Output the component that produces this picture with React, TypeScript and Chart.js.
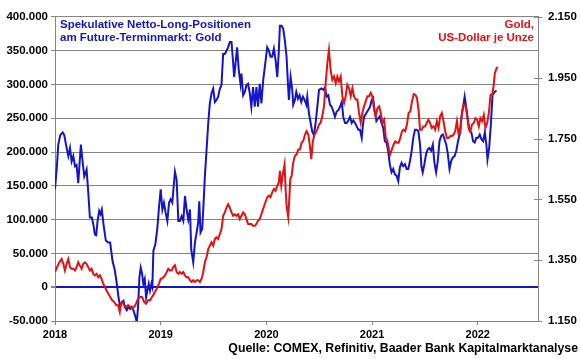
import React, { useEffect, useRef } from 'react';
import { Chart, registerables } from 'chart.js';

Chart.register(...registerables);

// ---------- axis ticks ----------
const yearTicks = [2018, 2019, 2020, 2021, 2022];
const leftTicks = [-50000, 0, 50000, 100000, 150000, 200000, 250000, 300000, 350000, 400000];
const rightTicks = [1150, 1350, 1550, 1750, 1950, 2150];

// ---------- speculative net long positions (thousand contracts), [decimal year, value] ----------
const netLong2018: [number, number][] = [
  [2018.000, 145], [2018.019, 181], [2018.031, 211], [2018.050, 225], [2018.072, 229], [2018.088, 225],
  [2018.104, 211], [2018.126, 194], [2018.142, 206], [2018.157, 186], [2018.173, 194], [2018.189, 179],
  [2018.204, 181], [2018.220, 154], [2018.236, 191], [2018.245, 211], [2018.261, 186], [2018.277, 164],
  [2018.289, 169], [2018.299, 174], [2018.314, 142], [2018.330, 103], [2018.349, 103], [2018.365, 91],
  [2018.377, 78], [2018.390, 77], [2018.403, 98], [2018.418, 113], [2018.431, 108], [2018.443, 115],
  [2018.459, 93], [2018.481, 69], [2018.503, 66], [2018.522, 66], [2018.544, 39], [2018.566, 25],
  [2018.585, 5], [2018.601, -15], [2018.616, -29], [2018.632, -22], [2018.648, -20], [2018.660, -29],
  [2018.679, -34], [2018.695, -29], [2018.711, -32], [2018.726, -29], [2018.742, -34], [2018.758, -42],
  [2018.774, -52], [2018.786, -29], [2018.799, 15], [2018.811, 29], [2018.824, 20], [2018.836, 5],
  [2018.849, 12], [2018.862, -15], [2018.874, -5], [2018.887, 5], [2018.899, -5], [2018.912, 5],
  [2018.921, 0], [2018.931, 54], [2018.950, 64], [2018.969, 88], [2018.984, 118],
];
const netLong2019: [number, number][] = [
  [2019.000, 145], [2019.016, 115], [2019.031, 125], [2019.047, 110], [2019.063, 98], [2019.079, 125],
  [2019.094, 130], [2019.110, 125], [2019.135, 171], [2019.151, 159], [2019.167, 98], [2019.182, 98],
  [2019.198, 105], [2019.214, 98], [2019.230, 135], [2019.245, 115], [2019.261, 100], [2019.277, 115],
  [2019.289, 56], [2019.308, 37], [2019.324, 66], [2019.340, 81], [2019.355, 96], [2019.365, 127],
  [2019.377, 81], [2019.393, 86], [2019.406, 125], [2019.418, 164], [2019.434, 203], [2019.450, 243],
  [2019.465, 272], [2019.481, 287], [2019.497, 294], [2019.513, 274], [2019.528, 277], [2019.544, 282],
  [2019.560, 294], [2019.575, 299], [2019.591, 345], [2019.607, 345], [2019.623, 350], [2019.638, 355],
  [2019.654, 363], [2019.670, 363], [2019.686, 331], [2019.695, 311], [2019.708, 331], [2019.723, 355],
  [2019.739, 321], [2019.755, 301], [2019.764, 316], [2019.780, 284], [2019.796, 289], [2019.811, 299],
  [2019.827, 301], [2019.843, 287], [2019.858, 267], [2019.874, 296], [2019.890, 267], [2019.906, 296],
  [2019.921, 267], [2019.937, 301], [2019.953, 272], [2019.969, 305],
];
const netLong2020: [number, number][] = [
  [2020.008, 355], [2020.024, 350], [2020.039, 341], [2020.055, 341], [2020.071, 353], [2020.087, 336],
  [2020.103, 311], [2020.118, 350], [2020.128, 387], [2020.144, 387], [2020.160, 382], [2020.175, 365],
  [2020.191, 341], [2020.204, 301], [2020.213, 277], [2020.229, 311], [2020.245, 292], [2020.254, 270],
  [2020.270, 277], [2020.283, 289], [2020.299, 279], [2020.314, 284], [2020.330, 274], [2020.346, 282],
  [2020.362, 277], [2020.378, 270], [2020.387, 282], [2020.403, 257], [2020.419, 243], [2020.434, 230],
  [2020.450, 225], [2020.466, 243], [2020.482, 267], [2020.498, 292], [2020.520, 294], [2020.539, 292],
  [2020.555, 296], [2020.570, 282], [2020.586, 284], [2020.602, 270], [2020.618, 267], [2020.634, 260],
  [2020.649, 252], [2020.665, 260], [2020.681, 262], [2020.697, 267], [2020.713, 274], [2020.728, 252],
  [2020.744, 243], [2020.760, 243], [2020.776, 247], [2020.791, 252], [2020.807, 243], [2020.823, 247],
  [2020.839, 243], [2020.855, 238], [2020.870, 233], [2020.886, 233], [2020.902, 221], [2020.912, 238],
  [2020.924, 252], [2020.943, 257], [2020.962, 262], [2020.981, 267], [2020.997, 277],
];
const netLong2021: [number, number][] = [
  [2021.010, 280], [2021.025, 260], [2021.041, 246], [2021.057, 250], [2021.073, 253], [2021.089, 243],
  [2021.105, 236], [2021.121, 216], [2021.137, 214], [2021.152, 202], [2021.168, 182], [2021.184, 170],
  [2021.200, 175], [2021.216, 167], [2021.232, 165], [2021.248, 157], [2021.263, 177], [2021.279, 184],
  [2021.295, 179], [2021.311, 182], [2021.327, 175], [2021.343, 175], [2021.359, 187], [2021.375, 202],
  [2021.390, 221], [2021.406, 233], [2021.422, 233], [2021.438, 231], [2021.454, 211], [2021.467, 179],
  [2021.479, 170], [2021.495, 182], [2021.511, 197], [2021.527, 204], [2021.543, 206], [2021.559, 202],
  [2021.575, 211], [2021.590, 184], [2021.606, 170], [2021.622, 187], [2021.638, 216], [2021.654, 224],
  [2021.670, 226], [2021.686, 219], [2021.702, 211], [2021.717, 197], [2021.733, 175], [2021.749, 187],
  [2021.765, 192], [2021.781, 194], [2021.797, 202], [2021.813, 216], [2021.829, 226], [2021.844, 250],
  [2021.860, 265], [2021.876, 282], [2021.892, 265], [2021.908, 246], [2021.924, 231], [2021.940, 229],
  [2021.956, 216], [2021.971, 214], [2021.987, 221],
];
const netLong2022: [number, number][] = [
  [2022.003, 221], [2022.019, 226], [2022.035, 219], [2022.051, 216], [2022.067, 229], [2022.083, 209],
  [2022.092, 189], [2022.108, 206], [2022.124, 241], [2022.140, 285], [2022.152, 287], [2022.165, 290],
  [2022.178, 291],
];

// ---------- gold price, USD per ounce, [decimal year, value] ----------
const gold2018: [number, number][] = [
  [2018.000, 1311], [2018.019, 1327], [2018.041, 1343], [2018.063, 1354], [2018.079, 1338], [2018.094, 1316],
  [2018.110, 1338], [2018.126, 1354], [2018.142, 1327], [2018.157, 1322], [2018.173, 1322], [2018.189, 1316],
  [2018.204, 1327], [2018.220, 1343], [2018.236, 1332], [2018.252, 1322], [2018.267, 1338], [2018.283, 1343],
  [2018.299, 1338], [2018.314, 1327], [2018.330, 1316], [2018.346, 1322], [2018.362, 1305], [2018.377, 1300],
  [2018.393, 1305], [2018.409, 1294], [2018.425, 1300], [2018.440, 1289], [2018.456, 1273], [2018.472, 1262],
  [2018.487, 1251], [2018.503, 1240], [2018.522, 1229], [2018.541, 1218], [2018.560, 1213], [2018.579, 1202],
  [2018.597, 1202], [2018.613, 1180], [2018.623, 1207], [2018.635, 1213], [2018.654, 1202], [2018.673, 1196],
  [2018.692, 1202], [2018.711, 1196], [2018.730, 1191], [2018.748, 1196], [2018.767, 1207], [2018.786, 1224],
  [2018.805, 1229], [2018.824, 1229], [2018.843, 1213], [2018.862, 1207], [2018.881, 1218], [2018.899, 1218],
  [2018.918, 1229], [2018.937, 1240], [2018.962, 1256], [2018.984, 1273],
];
const gold2019: [number, number][] = [
  [2019.000, 1289], [2019.009, 1289], [2019.025, 1294], [2019.041, 1300], [2019.057, 1311], [2019.072, 1322],
  [2019.088, 1316], [2019.104, 1316], [2019.119, 1327], [2019.135, 1333], [2019.151, 1311], [2019.167, 1305],
  [2019.182, 1311], [2019.198, 1305], [2019.214, 1311], [2019.230, 1300], [2019.245, 1294], [2019.261, 1294],
  [2019.277, 1284], [2019.292, 1278], [2019.308, 1284], [2019.324, 1278], [2019.340, 1284], [2019.355, 1284],
  [2019.371, 1278], [2019.387, 1289], [2019.403, 1311], [2019.418, 1343], [2019.434, 1360], [2019.450, 1387],
  [2019.465, 1398], [2019.481, 1409], [2019.497, 1398], [2019.513, 1420], [2019.528, 1425], [2019.544, 1420],
  [2019.560, 1436], [2019.575, 1452], [2019.591, 1496], [2019.607, 1507], [2019.623, 1523], [2019.638, 1534],
  [2019.654, 1523], [2019.670, 1507], [2019.686, 1496], [2019.701, 1501], [2019.717, 1496], [2019.733, 1501],
  [2019.748, 1485], [2019.764, 1496], [2019.780, 1507], [2019.796, 1501], [2019.811, 1485], [2019.827, 1469],
  [2019.843, 1469], [2019.858, 1469], [2019.874, 1463], [2019.890, 1463], [2019.906, 1469], [2019.921, 1480],
  [2019.937, 1485], [2019.953, 1501], [2019.969, 1518], [2019.984, 1534],
];
const gold2020: [number, number][] = [
  [2020.008, 1557], [2020.024, 1562], [2020.039, 1557], [2020.055, 1573], [2020.071, 1584], [2020.087, 1578],
  [2020.103, 1595], [2020.118, 1606], [2020.128, 1644], [2020.141, 1595], [2020.156, 1633], [2020.172, 1665],
  [2020.182, 1584], [2020.191, 1529], [2020.207, 1491], [2020.216, 1546], [2020.226, 1616], [2020.239, 1627],
  [2020.254, 1671], [2020.270, 1693], [2020.286, 1698], [2020.302, 1714], [2020.318, 1714], [2020.333, 1736],
  [2020.349, 1742], [2020.365, 1763], [2020.381, 1774], [2020.397, 1763], [2020.412, 1725], [2020.425, 1682],
  [2020.438, 1736], [2020.450, 1758], [2020.466, 1769], [2020.482, 1780], [2020.498, 1796], [2020.513, 1802],
  [2020.529, 1823], [2020.545, 1856], [2020.561, 1932], [2020.577, 1998], [2020.592, 2041], [2020.608, 1976],
  [2020.624, 1943], [2020.640, 1954], [2020.656, 1932], [2020.671, 1954], [2020.687, 1938], [2020.703, 1954],
  [2020.719, 1889], [2020.735, 1867], [2020.750, 1889], [2020.766, 1927], [2020.782, 1916], [2020.798, 1889],
  [2020.814, 1916], [2020.829, 1889], [2020.845, 1878], [2020.861, 1878], [2020.877, 1834], [2020.893, 1802],
  [2020.908, 1834], [2020.924, 1856], [2020.940, 1872], [2020.956, 1889], [2020.972, 1889], [2020.987, 1900],
];
const gold2021: [number, number][] = [
  [2021.003, 1888], [2021.019, 1845], [2021.035, 1823], [2021.051, 1850], [2021.067, 1856], [2021.083, 1834],
  [2021.098, 1801], [2021.114, 1812], [2021.130, 1752], [2021.146, 1741], [2021.162, 1709], [2021.171, 1698],
  [2021.187, 1714], [2021.203, 1730], [2021.219, 1741], [2021.235, 1736], [2021.251, 1736], [2021.267, 1752],
  [2021.283, 1774], [2021.298, 1779], [2021.314, 1774], [2021.330, 1796], [2021.346, 1834], [2021.362, 1839],
  [2021.378, 1872], [2021.394, 1896], [2021.410, 1894], [2021.425, 1883], [2021.441, 1839], [2021.454, 1779],
  [2021.470, 1779], [2021.486, 1790], [2021.502, 1790], [2021.517, 1801], [2021.533, 1812], [2021.549, 1801],
  [2021.565, 1785], [2021.581, 1790], [2021.597, 1779], [2021.613, 1807], [2021.629, 1785], [2021.644, 1823],
  [2021.660, 1834], [2021.676, 1807], [2021.692, 1774], [2021.708, 1752], [2021.724, 1752], [2021.740, 1758],
  [2021.756, 1758], [2021.771, 1763], [2021.787, 1774], [2021.803, 1807], [2021.819, 1763], [2021.835, 1769],
  [2021.851, 1839], [2021.867, 1861], [2021.883, 1861], [2021.898, 1828], [2021.914, 1785], [2021.930, 1774],
  [2021.946, 1796], [2021.962, 1801], [2021.978, 1817], [2021.994, 1812],
];
const gold2022: [number, number][] = [
  [2022.010, 1790], [2022.025, 1817], [2022.041, 1807], [2022.057, 1828], [2022.073, 1785], [2022.089, 1801],
  [2022.105, 1834], [2022.121, 1894], [2022.137, 1894], [2022.149, 1921], [2022.162, 1965], [2022.178, 1981],
  [2022.190, 1986],
];

const BLUE = '#1414c8';
const RED = '#e31212';
const GRID = '#858585';
const FONT = "'Liberation Sans', Arial, Helvetica, sans-serif";

const fmt = (v: number) => {
  const neg = v < 0;
  const s = Math.round(Math.abs(v)).toString().replace(/\B(?=(\d{3})+(?!\d))/g, '.');
  return (neg ? '-' : '') + s;
};

const rightTickMarks = {
  id: 'rightTickMarks',
  afterDraw(chart: any) {
    const s = chart.scales.y2;
    const ctx = chart.ctx;
    ctx.save();
    ctx.strokeStyle = GRID;
    ctx.lineWidth = 1;
    s.ticks.forEach((t: any) => {
      const y = Math.round(s.getPixelForValue(t.value)) + 0.5;
      ctx.beginPath();
      ctx.moveTo(s.left - 4, y);
      ctx.lineTo(s.left + 4, y);
      ctx.stroke();
    });
    ctx.restore();
  },
};

export default function App() {
  const ref = useRef<HTMLCanvasElement>(null);

  useEffect(() => {
    document.body.style.margin = '0';
    const toPts = (arr: [number, number][], k: number) => arr.map(([x, v]) => ({ x, y: v * k }));
    const netLong = [netLong2018, netLong2019, netLong2020, netLong2021, netLong2022].flatMap((a) => toPts(a, 1000));
    const gold = [gold2018, gold2019, gold2020, gold2021, gold2022].flatMap((a) => toPts(a, 1));

    const chart = new Chart(ref.current!, {
      type: 'line',
      data: {
        datasets: [
          {
            label: 'Gold, US-Dollar je Unze',
            data: gold,
            yAxisID: 'y2',
            borderColor: RED,
            borderWidth: 2,
            pointRadius: 0,
            tension: 0,
          },
          {
            label: 'Spekulative Netto-Long-Positionen',
            data: netLong,
            yAxisID: 'y',
            borderColor: BLUE,
            borderWidth: 2,
            pointRadius: 0,
            tension: 0,
          },
        ],
      },
      options: {
        animation: false,
        responsive: false,
        devicePixelRatio: 1,
        layout: { padding: { top: 15, left: 0, right: 0, bottom: 0 } },
        plugins: { legend: { display: false }, tooltip: { enabled: false } },
        scales: {
          x: {
            type: 'linear',
            min: 2018,
            max: 2022.57,
            afterBuildTicks: (s: any) => { s.ticks = yearTicks.map((value) => ({ value })); },
            afterFit: (s: any) => { s.height = 38; },
            grid: { drawOnChartArea: false, tickLength: 4, color: GRID },
            border: { color: GRID, width: 1 },
            ticks: {
              padding: 3,
              color: '#000',
              font: { family: FONT, size: 11, weight: 'bold' },
              callback: (v: any) => String(v),
              maxRotation: 0,
            },
          },
          y: {
            type: 'linear',
            position: 'left',
            min: -50000,
            max: 400000,
            afterBuildTicks: (s: any) => { s.ticks = leftTicks.map((value) => ({ value })); },
            afterFit: (s: any) => { s.width = 55; },
            grid: {
              tickLength: 4,
              tickColor: GRID,
              color: (c: any) => (c.tick && c.tick.value === 0 ? BLUE : GRID),
              lineWidth: (c: any) => (c.tick && c.tick.value === 0 ? 2 : 1),
            },
            border: { color: GRID, width: 1 },
            ticks: {
              padding: 3,
              color: '#000',
              font: { family: FONT, size: 11.5, weight: 'bold' },
              callback: (v: any) => fmt(Number(v)),
            },
          },
          y2: {
            type: 'linear',
            position: 'right',
            min: 1150,
            max: 2150,
            afterBuildTicks: (s: any) => { s.ticks = rightTicks.map((value) => ({ value })); },
            afterFit: (s: any) => { s.width = 42; },
            grid: { drawOnChartArea: false, drawTicks: false },
            border: { color: GRID, width: 1 },
            ticks: {
              padding: 10,
              color: '#000',
              font: { family: FONT, size: 11.5, weight: 'bold' },
              callback: (v: any) => fmt(Number(v)),
            },
          },
        },
      },
      plugins: [rightTickMarks],
    });
    return () => chart.destroy();
  }, []);

  const txt: React.CSSProperties = {
    position: 'absolute',
    fontFamily: FONT,
    fontWeight: 'bold',
    fontSize: '11.5px',
    lineHeight: '12.5px',
    whiteSpace: 'nowrap',
  };

  return (
    <div style={{ position: 'fixed', left: 0, top: 0, width: 580, height: 359, background: '#fff' }}>
      <canvas ref={ref} width={580} height={359} style={{ width: 580, height: 359, display: 'block' }} />
      <div style={{ ...txt, left: 60, top: 18, color: BLUE }}>
        Spekulative Netto-Long-Positionen
        <br />
        am Future-Terminmarkt: Gold
      </div>
      <div style={{ ...txt, right: 46, top: 18, color: RED, textAlign: 'right' }}>
        Gold,
        <br />
        US-Dollar je Unze
      </div>
      <div style={{ ...txt, right: 2, top: 341, color: '#000', fontSize: '12.3px', lineHeight: '14px' }}>
        Quelle: COMEX, Refinitiv, Baader Bank Kapitalmarktanalyse
      </div>
    </div>
  );
}
